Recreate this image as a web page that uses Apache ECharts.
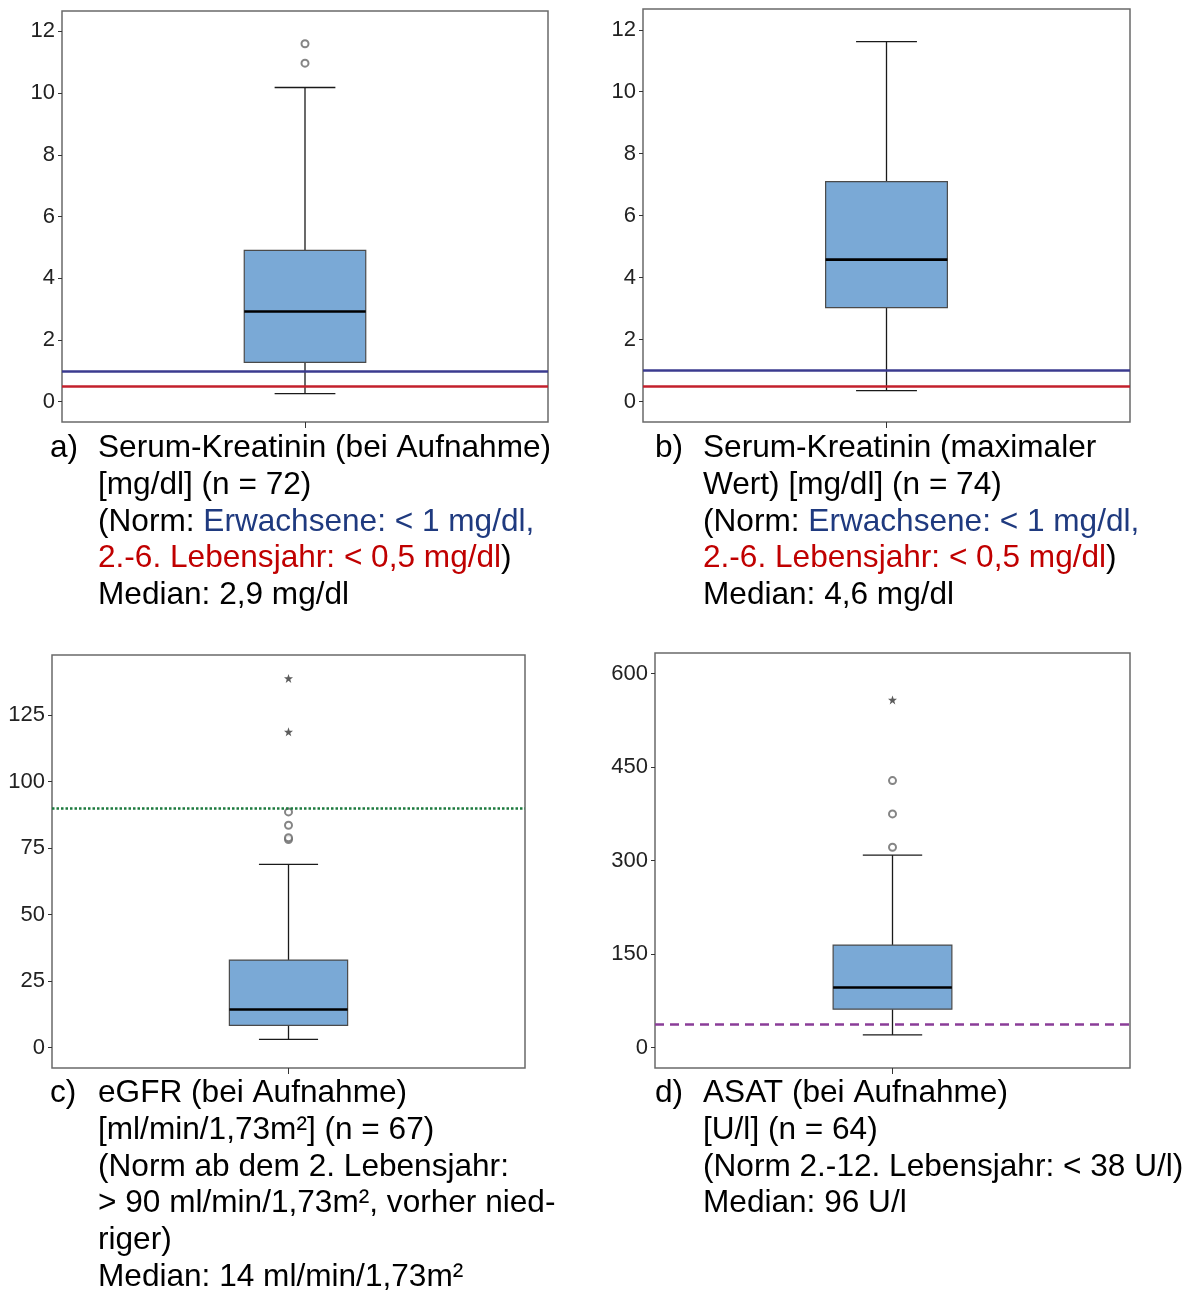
<!DOCTYPE html>
<html>
<head>
<meta charset="utf-8">
<script src="https://cdn.jsdelivr.net/npm/echarts@6/dist/echarts.min.js"></script>
<style>
html,body{margin:0;padding:0;background:#fff;}
#chart{width:1192px;height:1290px;}
</style>
</head>
<body>
<div id="chart"></div>
<script>
// ---- data (whisker low, Q1, median, Q3, whisker high) ----
const categories = [''];
const boxA = [0.26, 1.27, 2.92, 4.9, 10.18];
const outliersA = [10.97, 11.6];
const extremesA = [];
const normA_adult = 1.0;
const normA_child = 0.5;

const boxB = [0.35, 3.03, 4.58, 7.1, 11.62];
const outliersB = [];
const extremesB = [];
const normB_adult = 1.0;
const normB_child = 0.5;

const boxC = [3.1, 8.3, 14.3, 32.9, 68.9];
const outliersC = [78.2, 78.9, 83.6, 88.6];
const extremesC = [118.7, 138.8];
const normC = 90;

const boxD = [20.3, 61.5, 96.3, 164.3, 308.6];
const outliersD = [321.2, 374.7, 428.2];
const extremesD = [557.6];
const normD = 38;

const ticksAB = [0, 2, 4, 6, 8, 10, 12];
const ticksC = [0, 25, 50, 75, 100, 125];
const ticksD = [0, 150, 300, 450, 600];

// ---- styling ----
const BOX_FILL = '#7aa9d6';
const FONT = '"Liberation Sans", Arial, sans-serif';
const STAR = 'path://M0,-10 L2.35,-3.24 L9.51,-3.09 L3.8,1.24 L5.88,8.09 L0,4 L-5.88,8.09 L-3.8,1.24 L-9.51,-3.09 L-2.35,-3.24 Z';

function renderBox(params, api) {
  const xi = api.value(0);
  const v = [api.value(1), api.value(2), api.value(3), api.value(4), api.value(5)];
  const band = api.size([1, 0])[0];
  const bw = band * 0.25;
  const cx = api.coord([xi, v[2]])[0];
  const y = v.map(val => api.coord([xi, val])[1]);
  const wStyle = {stroke: '#1a1a1a', lineWidth: 1.3, fill: null};
  return {
    type: 'group',
    children: [
      {type: 'line', shape: {x1: cx, y1: y[3], x2: cx, y2: y[4]}, style: wStyle},
      {type: 'line', shape: {x1: cx, y1: y[0], x2: cx, y2: y[1]}, style: wStyle},
      {type: 'line', shape: {x1: cx - bw / 4, y1: y[4], x2: cx + bw / 4, y2: y[4]}, style: wStyle},
      {type: 'line', shape: {x1: cx - bw / 4, y1: y[0], x2: cx + bw / 4, y2: y[0]}, style: wStyle},
      {type: 'rect', shape: {x: cx - bw / 2, y: y[3], width: bw, height: y[1] - y[3]},
        style: {fill: BOX_FILL, stroke: '#4a4a4a', lineWidth: 1.2}},
      {type: 'line', shape: {x1: cx - bw / 2, y1: y[2], x2: cx + bw / 2, y2: y[2]},
        style: {stroke: '#000', lineWidth: 2.6}}
    ]
  };
}

function xAxisFor(gi) {
  return {
    type: 'category', gridIndex: gi, data: categories, boundaryGap: true, position: 'bottom',
    axisLine: {show: false, onZero: false},
    axisTick: {show: true, alignWithLabel: true, inside: false, length: 6, lineStyle: {color: '#333', width: 1}},
    axisLabel: {show: false}, splitLine: {show: false}
  };
}
function yAxisFor(gi, min, max, ticks) {
  return {
    type: 'value', gridIndex: gi, min: min, max: max,
    axisLine: {show: false},
    axisTick: {show: true, length: 4, customValues: ticks, lineStyle: {color: '#333', width: 1}},
    axisLabel: {show: true, customValues: ticks, margin: 7, fontSize: 22, color: '#222', fontFamily: FONT},
    splitLine: {show: false}
  };
}
function normLine(value, color, type, width) {
  return {
    silent: true, symbol: ['none', 'none'], label: {show: false},
    lineStyle: {color: color, type: type, width: width},
    emphasis: {disabled: true},
    data: [{yAxis: value}]
  };
}
function boxSeries(gi, box) {
  return {
    type: 'custom', xAxisIndex: gi, yAxisIndex: gi,
    renderItem: renderBox, encode: {x: 0, y: [1, 2, 3, 4, 5]},
    data: [[0].concat(box)], z: 2
  };
}
function outlierSeries(gi, vals) {
  return {
    type: 'scatter', xAxisIndex: gi, yAxisIndex: gi, z: 4,
    symbol: 'emptyCircle', symbolSize: 7,
    itemStyle: {color: '#666', borderWidth: 1},
    data: vals.map(v => [0, v])
  };
}
function extremeSeries(gi, vals) {
  return {
    type: 'scatter', xAxisIndex: gi, yAxisIndex: gi, z: 4,
    symbol: STAR, symbolSize: 9,
    itemStyle: {color: '#333'},
    data: vals.map(v => [0, v])
  };
}
function normSeries(gi, lines) {
  return {
    type: 'line', xAxisIndex: gi, yAxisIndex: gi, data: [], z: 3,
    markLine: lines
  };
}

const chart = echarts.init(document.getElementById('chart'), null, {renderer: 'canvas'});

const BLUE_LINE = '#3b3b8f';
const RED_LINE = '#c3202c';

function markTwo(a, b) {
  return {
    silent: true, symbol: ['none', 'none'], label: {show: false}, emphasis: {disabled: true},
    data: [
      {yAxis: a, lineStyle: {color: BLUE_LINE, type: 'solid', width: 2.5}},
      {yAxis: b, lineStyle: {color: RED_LINE, type: 'solid', width: 2.5}}
    ]
  };
}

// caption helpers
const CAP_SIZE = 31.6;
const BLUE_TXT = '#1f3a7f';
const RED_TXT = '#c00000';
function capLine(x, y, text) {
  return {
    type: 'text', x: x, y: y, silent: true,
    style: {
      text: text, fill: '#000', verticalAlign: 'middle',
      font: CAP_SIZE + 'px ' + FONT,
      rich: {
        k: {fill: '#000', fontSize: CAP_SIZE, fontFamily: FONT},
        b: {fill: BLUE_TXT, fontSize: CAP_SIZE, fontFamily: FONT},
        r: {fill: RED_TXT, fontSize: CAP_SIZE, fontFamily: FONT}
      }
    }
  };
}
const LH = 36.9;
const captions = [];
function addCaption(label, lx, tx, y0, lines) {
  captions.push(capLine(lx, y0, label));
  lines.forEach((t, i) => captions.push(capLine(tx, y0 + i * LH, t)));
}
addCaption('a)', 50, 98, 448, [
  'Serum-Kreatinin (bei Aufnahme)',
  '[mg/dl] (n = 72)',
  '{k|(Norm: }{b|Erwachsene: < 1 mg/dl,}',
  '{r|2.-6. Lebensjahr: < 0,5 mg/dl}{k|)}',
  'Median: 2,9 mg/dl'
]);
addCaption('b)', 655, 703, 448, [
  'Serum-Kreatinin (maximaler',
  'Wert) [mg/dl] (n = 74)',
  '{k|(Norm: }{b|Erwachsene: < 1 mg/dl,}',
  '{r|2.-6. Lebensjahr: < 0,5 mg/dl}{k|)}',
  'Median: 4,6 mg/dl'
]);
addCaption('c)', 50, 98, 1093, [
  'eGFR (bei Aufnahme)',
  '[ml/min/1,73m²] (n = 67)',
  '(Norm ab dem 2. Lebensjahr:',
  '> 90 ml/min/1,73m², vorher nied-',
  'riger)',
  'Median: 14 ml/min/1,73m²'
]);
addCaption('d)', 655, 703, 1093, [
  'ASAT (bei Aufnahme)',
  '[U/l] (n = 64)',
  '(Norm 2.-12. Lebensjahr: < 38 U/l)',
  'Median: 96 U/l'
]);

const gridBase = {show: true, borderColor: '#6a6a6a', borderWidth: 1.5, backgroundColor: 'transparent', containLabel: false};

const option = {
  animation: false,
  backgroundColor: '#ffffff',
  textStyle: {fontFamily: FONT},
  grid: [
    Object.assign({left: 62, top: 11, width: 486, height: 411}, gridBase),
    Object.assign({left: 643, top: 9, width: 487, height: 413}, gridBase),
    Object.assign({left: 52, top: 655, width: 473, height: 413}, gridBase),
    Object.assign({left: 655, top: 653, width: 475, height: 415}, gridBase)
  ],
  xAxis: [xAxisFor(0), xAxisFor(1), xAxisFor(2), xAxisFor(3)],
  yAxis: [
    yAxisFor(0, -0.66, 12.66, ticksAB),
    yAxisFor(1, -0.66, 12.67, ticksAB),
    yAxisFor(2, -7.7, 147.6, ticksC),
    yAxisFor(3, -32.8, 632.8, ticksD)
  ],
  series: [
    boxSeries(0, boxA),
    normSeries(0, markTwo(normA_adult, normA_child)),
    outlierSeries(0, outliersA),
    extremeSeries(0, extremesA),

    boxSeries(1, boxB),
    normSeries(1, markTwo(normB_adult, normB_child)),
    outlierSeries(1, outliersB),
    extremeSeries(1, extremesB),

    boxSeries(2, boxC),
    normSeries(2, normLine(normC, '#1d7a3e', [2.5, 2], 2.5)),
    outlierSeries(2, outliersC),
    extremeSeries(2, extremesC),

    boxSeries(3, boxD),
    normSeries(3, normLine(normD, '#8a3d98', [9, 6], 2.5)),
    outlierSeries(3, outliersD),
    extremeSeries(3, extremesD)
  ],
  graphic: captions
};
chart.setOption(option);
</script>
</body>
</html>
